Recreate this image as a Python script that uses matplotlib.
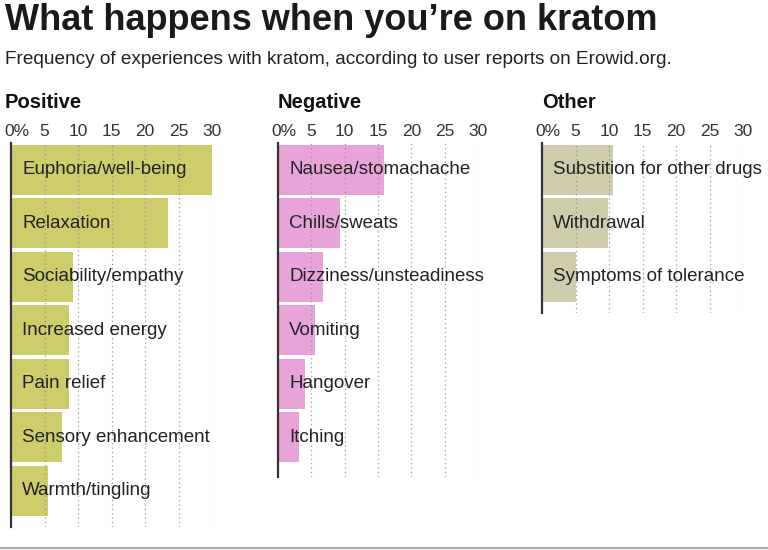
import matplotlib
matplotlib.use("Agg")
import matplotlib.pyplot as plt

# data (percent of user reports)
positive_labels = ["Euphoria/well-being", "Relaxation", "Sociability/empathy", "Increased energy",
                   "Pain relief", "Sensory enhancement", "Warmth/tingling"]
positive_values = [30.0, 23.4, 9.3, 8.7, 8.7, 7.6, 5.5]

negative_labels = ["Nausea/stomachache", "Chills/sweats", "Dizziness/unsteadiness", "Vomiting",
                   "Hangover", "Itching"]
negative_values = [15.9, 9.3, 6.7, 5.5, 4.0, 3.1]

other_labels = ["Substition for other drugs", "Withdrawal", "Symptoms of tolerance"]
other_values = [10.6, 9.9, 5.1]

tick_values = [0, 5, 10, 15, 20, 25, 30]
tick_labels = ["0%", "5", "10", "15", "20", "25", "30"]

W, H = 768, 550
PITCH = 53.5   # px per bar row
TOP = 143      # px, top of the bar area
FONT = ["Liberation Sans", "DejaVu Sans"]

fig = plt.figure(figsize=(W / 100, H / 100), dpi=100)
fig.patch.set_facecolor("white")


def panel(x0, x30, title, title_x, labels, values, color, tail=9):
    n = len(labels)
    height = n * PITCH + tail
    ax = fig.add_axes([x0 / W, 1 - (TOP + height) / H, (x30 - x0) / W, height / H])
    ax.barh(range(n), values, height=0.94, color=color, zorder=1)
    ax.set_xlim(0, 30)
    ax.set_ylim(n - 0.5 + tail / PITCH, -0.5)
    for s in ["top", "right", "bottom"]:
        ax.spines[s].set_visible(False)
    ax.spines["left"].set_color("#333333")
    ax.spines["left"].set_linewidth(1.6)
    ax.spines["left"].set_zorder(3)
    ax.set_yticks([])
    ax.set_xticks(tick_values)
    # the "0%" label sits just right of the axis line, drawn separately below
    ax.set_xticklabels([""] + tick_labels[1:], family=FONT, fontsize=12.5, color="#333333")
    ax.tick_params(axis="x", top=True, labeltop=True, bottom=False, labelbottom=False,
                   length=0, pad=3)
    ax.annotate(tick_labels[0], xy=(0, 1), xycoords=("data", "axes fraction"),
                xytext=(-5, 3), textcoords="offset points", ha="left", va="bottom",
                family=FONT, fontsize=12.5, color="#333333", annotation_clip=False)
    for v in tick_values[1:]:
        ax.axvline(v, color="#999999", lw=0.9, ls=(0, (1, 2.5)), zorder=2)
    for i, lab in enumerate(labels):
        ax.annotate(lab, xy=(0, i), xytext=(8, 0), textcoords="offset points",
                    va="center", ha="left", family=FONT, fontsize=13.5, color="#222222",
                    zorder=4)
    fig.text(title_x / W, 1 - 103 / H, title, family=FONT, fontsize=14.5,
             fontweight="bold", va="center", ha="left", color="#111111")
    return ax


panel(11, 212, "Positive", 5, positive_labels, positive_values, "#cdcd6b")
panel(278, 478, "Negative", 278, negative_labels, negative_values, "#e8a3d9", tail=13)
panel(542, 743, "Other", 542, other_labels, other_values, "#cfcdac")

fig.text(5 / W, 1 - 20 / H, "What happens when you\u2019re on kratom", family=FONT,
         fontsize=26, fontweight="bold", va="center", ha="left", color="#1a1a1a")
fig.text(5 / W, 1 - 59 / H,
         "Frequency of experiences with kratom, according to user reports on Erowid.org.",
         family=FONT, fontsize=13.7, va="center", ha="left", color="#222222")

fig.add_artist(plt.Line2D([0, 1], [1 - 548 / H, 1 - 548 / H], color="#aaaaaa", lw=1.5,
                          transform=fig.transFigure))

fig.savefig("out.png", dpi=100)
